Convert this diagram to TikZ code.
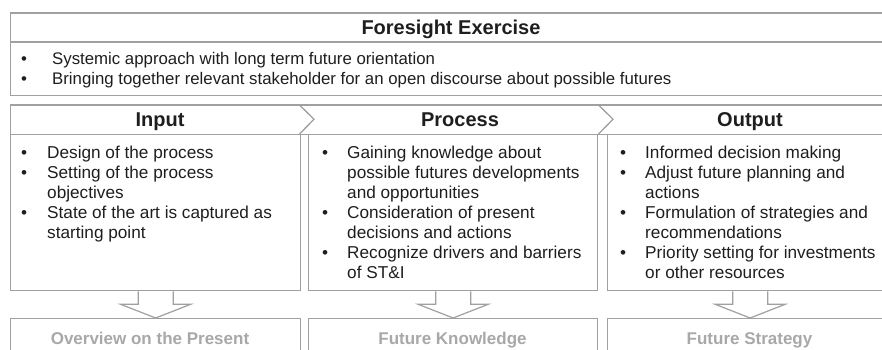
\documentclass[tikz,border=0pt]{standalone}
\usepackage{fontspec}
\setmainfont{Liberation Sans}
\usetikzlibrary{calc}
\definecolor{linegray}{HTML}{A0A0A0}
\definecolor{txt}{HTML}{1E1E1E}
\definecolor{labgray}{HTML}{A8A8A8}
\newcommand\blkarrow[2]{%
  \draw[arrowline] ($(#1.south)+(-17.5,0)$) -- ++(0,13) -- ++(-17.5,0)
    -- (#1.south |- #2.north) -- ($(#1.south)+(35,13)$) -- ++(-17.5,0)
    -- ($(#1.south)+(17.5,0)$);}
\begin{document}
\begin{tikzpicture}[x=1pt,y=-1pt,
  box/.style={draw=linegray, line width=1.3pt, rectangle, inner sep=0pt, anchor=north west},
  rule/.style={draw=linegray, line width=1.3pt},
  arrowline/.style={draw=linegray, line width=1.2pt, fill=white, line join=miter},
  hdr/.style={font=\fontsize{20}{24}\selectfont\bfseries, text=txt, inner sep=0pt, anchor=base},
  body/.style={font=\fontsize{16.8}{19.3}\selectfont, text=txt, anchor=base west, inner sep=0pt},
  colbody/.style={font=\fontsize{17.2}{20}\selectfont, text=txt, anchor=base west, inner sep=0pt},
  lab/.style={font=\fontsize{17}{20}\selectfont\bfseries, text=labgray, inner sep=0pt, anchor=base}]
\useasboundingbox (0,0) rectangle (882,350);

% Top box
\node[box, minimum width=882pt, minimum height=82.5pt] (top) at (10,12.5) {};
\coordinate (tdl) at (10,42);
\coordinate (tdr) at (892,42);
\draw[rule] (tdl) -- (tdr);
\node[hdr] (title) at (451,34.5) {Foresight Exercise};
\node[body] (topitems) at (21,65) {\begin{tabular}[t]{@{}p{31pt}@{}l@{}}
\textbullet & Systemic approach with long term future orientation\\
\textbullet & Bringing together relevant stakeholder for an open discourse about possible futures
\end{tabular}};

% Header strip
\node[box, minimum width=882pt, minimum height=29.5pt] (strip) at (10,104.5) {};
\coordinate (c1a) at (299,104.5); \coordinate (c1b) at (314,119.25); \coordinate (c1c) at (299.5,134);
\coordinate (c2a) at (598,104.5); \coordinate (c2b) at (613,119.25); \coordinate (c2c) at (598.5,134);
\draw[rule, line join=miter] (c1a) -- (c1b) -- (c1c);
\draw[rule, line join=miter] (c2a) -- (c2b) -- (c2c);
\node[hdr] (inh) at (160,126.5) {Input};
\node[hdr] (proch) at (460,126.5) {Process};
\node[hdr] (outh) at (750,126.5) {Output};

% Column boxes
\node[box, minimum width=290pt, minimum height=156pt] (inbox) at (10,134) {};
\node[box, minimum width=289pt, minimum height=156pt] (procbox) at (308,134) {};
\node[box, minimum width=285pt, minimum height=156pt] (outbox) at (607,134) {};

\node[colbody] (intext) at (21,158.5) {\begin{tabular}[t]{@{}p{26pt}@{}l@{}}
\textbullet & Design of the process\\
\textbullet & Setting of the process\\
 & objectives\\
\textbullet & State of the art is captured as\\
 & starting point
\end{tabular}};
\node[colbody] (proctext) at (322,158.5) {\begin{tabular}[t]{@{}p{25pt}@{}l@{}}
\textbullet & Gaining knowledge about\\
 & possible futures developments\\
 & and opportunities\\
\textbullet & Consideration of present\\
 & decisions and actions\\
\textbullet & Recognize drivers and barriers\\
 & of ST\&I
\end{tabular}};
\node[colbody] (outtext) at (620,158.5) {\begin{tabular}[t]{@{}p{25pt}@{}l@{}}
\textbullet & Informed decision making\\
\textbullet & Adjust future planning and\\
 & actions\\
\textbullet & Formulation of strategies and\\
 & recommendations\\
\textbullet & Priority setting for investments\\
 & or other resources
\end{tabular}};

% Result boxes
\node[box, minimum width=290pt, minimum height=45pt] (inres) at (10,318) {};
\node[box, minimum width=289pt, minimum height=45pt] (procres) at (308,318) {};
\node[box, minimum width=285pt, minimum height=45pt] (outres) at (607,318) {};
\node[lab] (inlab) at (150,344) {Overview on the Present};
\node[lab] (proclab) at (452.5,344) {Future Knowledge};
\node[lab] (outlab) at (749.5,344) {Future Strategy};

% Block arrows
\blkarrow{inbox}{inres}
\blkarrow{procbox}{procres}
\blkarrow{outbox}{outres}
\end{tikzpicture}
\end{document}
